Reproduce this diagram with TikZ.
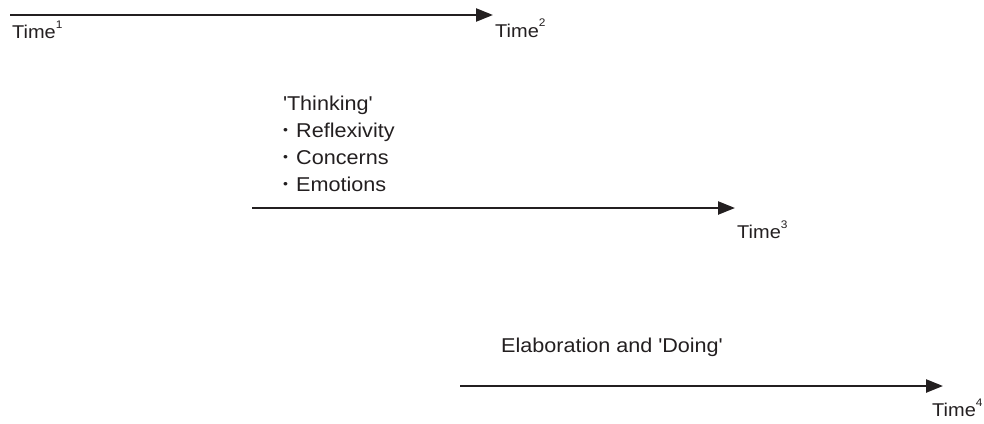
\documentclass[tikz,border=0pt]{standalone}
\usepackage{fontspec}
\setmainfont[FakeStretch=1.08]{Liberation Sans}
\usetikzlibrary{arrows.meta}
\definecolor{ink}{HTML}{231F20}
% time label with a small raised index
\newcommand{\timesup}[1]{Time\raisebox{10pt}{\fontsize{11}{11}\selectfont #1}}
% small list bullet
\newcommand{\smallbullet}{\makebox[13pt][l]{\raisebox{2.5pt}{\fontsize{13}{13}\selectfont\textbullet}}}
\newcommand{\sq}{\textquotesingle}
\begin{document}
\begin{tikzpicture}[x=1pt,y=-1pt,
  timeline/.style={line width=2.4pt, draw=ink, -{Triangle[length=17pt,width=13pt]}},
  lbl/.style={anchor=base west, inner sep=0pt, text=ink, font=\fontsize{18.5}{27}\selectfont},
  body/.style={lbl, font=\fontsize{20}{27}\selectfont}]
  \useasboundingbox (0,0) rectangle (984,423);

  % first interval
  \coordinate (a1) at (10,15);
  \coordinate (b1) at (493,15);
  \draw[timeline] (a1) -- (b1);
  \node[lbl] (t1) at (12,38) {\timesup{1}};
  \node[lbl] (t2) at (495,37) {\timesup{2}};

  % reflection phase
  \node[body] (think) at (283,110) {\sq Thinking\sq};
  \node[body] (refl) at (283,137) {\smallbullet Reflexivity};
  \node[body] (conc) at (283,164) {\smallbullet Concerns};
  \node[body] (emot) at (283,191) {\smallbullet Emotions};
  \coordinate (a2) at (252,208);
  \coordinate (b2) at (735,208);
  \draw[timeline] (a2) -- (b2);
  \node[lbl] (t3) at (737,238) {\timesup{3}};

  % elaboration phase
  \node[body] (elab) at (501,352) {Elaboration and \sq Doing\sq};
  \coordinate (a3) at (460,386);
  \coordinate (b3) at (943,386);
  \draw[timeline] (a3) -- (b3);
  \node[lbl] (t4) at (932,416) {\timesup{4}};
\end{tikzpicture}
\end{document}
